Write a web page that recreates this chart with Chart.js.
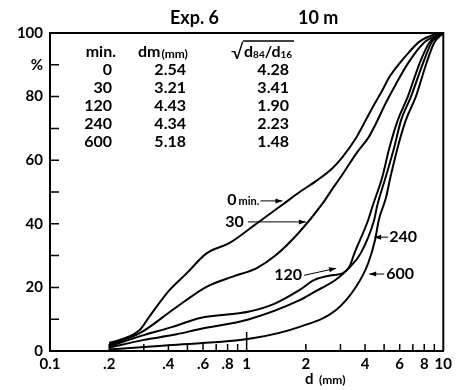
<!DOCTYPE html>
<html>
<head>
<meta charset="utf-8">
<script src="https://cdn.jsdelivr.net/npm/chart.js@4.4.1/dist/chart.umd.min.js"></script>
<style>
  body { margin: 0; background: #fff; }
  #myChart { display: block; }
</style>
</head>
<body>
<canvas id="myChart" width="456" height="390"></canvas>
<script>
// grain size curves, d in mm and percent finer
var d0   = [0.2, 0.226, 0.286, 0.32, 0.406, 0.495, 0.625, 0.82, 1.12, 1.52, 1.86, 2.26, 2.73, 3.07, 3.6, 3.87, 4.36, 4.9, 5.3, 6.0, 6.7, 7.57, 9.2, 10];
var p0   = [2.5, 3.5, 6.6, 10.8, 19.2, 24.4, 30.7, 34, 40, 46, 50, 53.5, 57.5, 61, 67, 70.5, 76.5, 82, 86, 90.5, 94, 97.3, 99.7, 100];
var d30  = [0.2, 0.286, 0.42, 0.625, 0.85, 1.12, 1.4, 1.86, 2.44, 2.73, 3.07, 3.6, 4.2, 4.5, 5.1, 5.7, 6.7, 8.1, 10];
var p30  = [2, 5.6, 12.9, 20.2, 23.4, 26, 30, 37.5, 46.5, 51, 55.5, 62, 67.5, 71, 78, 83.6, 91, 97.3, 100];
var d120 = [0.2, 0.3, 0.42, 0.58, 1.03, 1.4, 1.86, 2.2, 2.76, 3.07, 3.33, 3.53, 4.15, 4.36, 4.9, 5.3, 5.87, 6.6, 7.57, 8.5, 10];
var p120 = [1.5, 5, 7.6, 10.4, 12.4, 15, 19.2, 22.3, 23.9, 24.4, 26.5, 30.7, 41.2, 45.4, 54.8, 63.5, 72.6, 80, 90.4, 97, 100];
var d240 = [0.2, 0.3, 0.42, 0.58, 1.03, 1.86, 2.2, 2.85, 3.3, 3.8, 4.45, 4.6, 5.1, 5.6, 6.1, 6.85, 7.87, 8.8, 10];
var p240 = [1, 3.5, 5, 6.9, 10, 16, 18.5, 22.5, 26, 30.7, 41.2, 45.4, 54.8, 63.5, 72.6, 80, 90.4, 97.5, 100];
var d600 = [0.2, 0.42, 1.07, 1.86, 2.85, 3.6, 4.15, 4.5, 4.7, 5.1, 5.4, 5.95, 6.45, 7.25, 8.2, 9.0, 10];
var p600 = [0.5, 1.9, 4, 7.6, 12.9, 20.2, 27.6, 35, 41.2, 48, 55, 65.5, 72.6, 80, 90.4, 97, 100];

// inset table
var tabMin   = ['0', '30', '120', '240', '600'];
var tabDm    = ['2.54', '3.21', '4.43', '4.34', '5.18'];
var tabRatio = ['4.28', '3.41', '1.90', '2.23', '1.48'];

// axis ticks
var xTickVals = [0.1, 0.2, 0.3, 0.4, 0.5, 0.6, 0.7, 0.8, 0.9, 1, 2, 3, 4, 5, 6, 7, 8, 9, 10];
var xTickText = {0.1: '0.1', 0.2: '.2', 0.4: '.4', 0.6: '.6', 0.8: '.8', 1: '1', 2: '2', 4: '4', 6: '6', 8: '8', 10: '10'};

var FONT = 'Lato, "DejaVu Sans", sans-serif';

function pts(xs, ys) {
    var out = [];
    for (var i = 0; i < xs.length; i++) out.push({x: xs[i], y: ys[i]});
    return out;
}

function curve(label, xs, ys) {
    return {
        label: label,
        data: pts(xs, ys),
        borderColor: '#000',
        borderWidth: 2,
        pointRadius: 0,
        fill: false,
        cubicInterpolationMode: 'monotone'
    };
}

function arrow(ctx, x1, y1, x2, y2) {
    ctx.beginPath();
    ctx.moveTo(x1, y1);
    ctx.lineTo(x2, y2);
    ctx.stroke();
    var a = Math.atan2(y2 - y1, x2 - x1);
    ctx.beginPath();
    ctx.moveTo(x2, y2);
    ctx.lineTo(x2 - 7 * Math.cos(a) + 2.5 * Math.sin(a), y2 - 7 * Math.sin(a) - 2.5 * Math.cos(a));
    ctx.lineTo(x2 - 7 * Math.cos(a) - 2.5 * Math.sin(a), y2 - 7 * Math.sin(a) + 2.5 * Math.cos(a));
    ctx.closePath();
    ctx.fill();
}

var decor = {
    id: 'decor',
    afterDraw: function(chart) {
        var ctx = chart.ctx;
        var xs = chart.scales.x, ys = chart.scales.y;
        var a = chart.chartArea;
        ctx.save();
        ctx.strokeStyle = '#000';
        ctx.fillStyle = '#000';

        // frame top and right
        ctx.lineWidth = 2;
        ctx.beginPath();
        ctx.moveTo(a.left, a.top);
        ctx.lineTo(a.right, a.top);
        ctx.lineTo(a.right, a.bottom);
        ctx.stroke();

        // inward ticks
        ctx.lineWidth = 1.5;
        ctx.beginPath();
        xTickVals.forEach(function(v) {
            if (v === 0.1 || v === 10) return;
            var px = xs.getPixelForValue(v);
            ctx.moveTo(px, a.bottom);
            ctx.lineTo(px, a.bottom - (v === 1 ? 19 : 7));
        });
        for (var t = 10; t < 100; t += 10) {
            var py = ys.getPixelForValue(t);
            ctx.moveTo(a.left, py);
            ctx.lineTo(a.left + 9, py);
        }
        ctx.stroke();

        // title
        ctx.textBaseline = 'middle';
        ctx.textAlign = 'left';
        ctx.font = 'bold 18px ' + FONT;
        ctx.fillText('Exp. 6', 170, 18);
        ctx.fillText('10 m', 298, 18);

        // table header
        ctx.font = 'bold 16px ' + FONT;
        ctx.textAlign = 'right';
        ctx.fillText('min.', 116, 52);
        ctx.textAlign = 'left';
        ctx.fillText('dm', 138, 52);
        var w = ctx.measureText('dm').width;
        ctx.font = 'bold 12px ' + FONT;
        ctx.fillText('(mm)', 138 + w + 1, 54);

        // sqrt(d84/d16)
        ctx.font = '20px ' + FONT;
        ctx.fillText('\u221A', 231, 53);
        var sx = 244;
        ctx.font = 'bold 16px ' + FONT;
        ctx.fillText('d', sx, 52); sx += ctx.measureText('d').width;
        ctx.font = 'bold 10px ' + FONT;
        ctx.fillText('84', sx, 55); sx += ctx.measureText('84').width;
        ctx.font = 'bold 16px ' + FONT;
        ctx.fillText('/d', sx, 52); sx += ctx.measureText('/d').width;
        ctx.font = 'bold 10px ' + FONT;
        ctx.fillText('16', sx, 55); sx += ctx.measureText('16').width;
        ctx.lineWidth = 1.5;
        ctx.beginPath();
        ctx.moveTo(243, 41);
        ctx.lineTo(sx + 2, 41);
        ctx.stroke();

        // table rows
        ctx.font = 'bold 16px ' + FONT;
        for (var i = 0; i < tabMin.length; i++) {
            var ry = 70 + i * 18;
            ctx.textAlign = 'right';
            ctx.fillText(tabMin[i], 112, ry);
            ctx.fillText(tabDm[i], 186, ry);
            ctx.fillText(tabRatio[i], 289, ry);
        }

        // curve labels with arrows
        ctx.lineWidth = 1;
        var tx, ty;
        // 0 min.
        tx = xs.getPixelForValue(1.52); ty = ys.getPixelForValue(47.2);
        arrow(ctx, tx - 22, ty, tx, ty);
        ctx.textAlign = 'right';
        ctx.font = 'bold 11px ' + FONT;
        ctx.fillText('min.', tx - 23, ty + 1);
        var mw = ctx.measureText('min.').width;
        ctx.font = 'bold 16px ' + FONT;
        ctx.fillText('0', tx - 25 - mw, ty - 1);
        // 30
        tx = xs.getPixelForValue(2.0); ty = ys.getPixelForValue(40.6);
        arrow(ctx, tx - 58, ty, tx, ty);
        ctx.fillText('30', tx - 62, ty);
        // 120
        tx = xs.getPixelForValue(2.85); ty = ys.getPixelForValue(26);
        arrow(ctx, tx - 32, ty + 7, tx, ty);
        ctx.fillText('120', tx - 34, ty + 7);
        // 240
        tx = xs.getPixelForValue(4.45); ty = ys.getPixelForValue(35.8);
        arrow(ctx, tx + 14, ty, tx, ty);
        ctx.textAlign = 'left';
        ctx.fillText('240', tx + 15, ty);
        // 600
        tx = xs.getPixelForValue(4.2); ty = ys.getPixelForValue(24.2);
        arrow(ctx, tx + 15, ty, tx, ty);
        ctx.fillText('600', tx + 17, ty);

        // axis title
        ctx.textAlign = 'left';
        ctx.font = 'bold 15px ' + FONT;
        ctx.fillText('d', 305, 379);
        ctx.font = 'bold 12px ' + FONT;
        ctx.fillText('(mm)', 319, 380);

        ctx.restore();
    }
};

var ctx = document.getElementById('myChart').getContext('2d');
var myChart = new Chart(ctx, {
    type: 'line',
    data: {
        datasets: [
            curve('0 min.', d0, p0),
            curve('30', d30, p30),
            curve('120', d120, p120),
            curve('240', d240, p240),
            curve('600', d600, p600)
        ]
    },
    options: {
        responsive: false,
        animation: false,
        layout: { padding: { top: 33, right: 12, left: 0, bottom: 0 } },
        plugins: {
            legend: { display: false },
            tooltip: { enabled: false },
            title: { display: false }
        },
        scales: {
            x: {
                type: 'logarithmic',
                min: 0.1,
                max: 10,
                afterBuildTicks: function(scale) {
                    scale.ticks = xTickVals.map(function(v) { return {value: v}; });
                },
                afterFit: function(scale) { scale.height = 39; },
                grid: { display: false, drawTicks: false },
                border: { display: true, color: '#000', width: 2 },
                ticks: {
                    autoSkip: false,
                    maxRotation: 0,
                    padding: 4,
                    color: '#000',
                    font: { family: FONT, size: 15, weight: 'bold' },
                    callback: function(v) { return xTickText[v] || ''; }
                }
            },
            y: {
                min: 0,
                max: 100,
                afterFit: function(scale) { scale.width = 50; },
                grid: { display: false, drawTicks: false },
                border: { display: true, color: '#000', width: 2 },
                ticks: {
                    stepSize: 10,
                    padding: 7,
                    color: '#000',
                    font: { family: FONT, size: 15, weight: 'bold' },
                    callback: function(v) {
                        if (v === 90) return '%';
                        return v % 20 === 0 ? String(v) : '';
                    }
                }
            }
        }
    },
    plugins: [decor]
});
</script>
</body>
</html>
